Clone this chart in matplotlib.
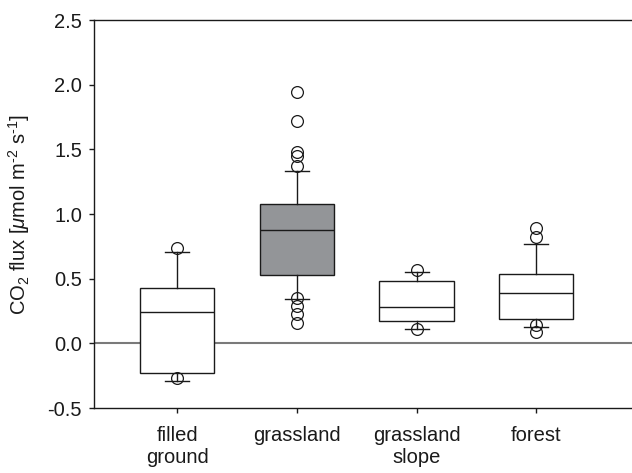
import matplotlib
matplotlib.use("Agg")
import matplotlib.pyplot as plt

plt.rcParams["font.family"] = ["Liberation Sans", "DejaVu Sans"]
plt.rcParams["mathtext.fontset"] = "custom"
plt.rcParams["mathtext.rm"] = "Liberation Sans"
plt.rcParams["mathtext.it"] = "Liberation Sans:italic"

# Box statistics per land-use class
sites = ["filled\nground", "grassland", "grassland\nslope", "forest"]
q1 = [-0.23, 0.53, 0.17, 0.19]
med = [0.24, 0.88, 0.28, 0.39]
q3 = [0.425, 1.08, 0.48, 0.54]
whislo = [-0.29, 0.34, 0.11, 0.13]
whishi = [0.71, 1.33, 0.55, 0.77]
fliers = [
    [0.735, -0.27],
    [1.94, 1.72, 1.48, 1.45, 1.37, 0.35, 0.29, 0.23, 0.155],
    [0.57, 0.11],
    [0.89, 0.82, 0.14, 0.085],
]
face = ["white", "#939598", "white", "white"]

stats = [
    dict(label=s, q1=a, med=m, q3=b, whislo=lo, whishi=hi, fliers=f)
    for s, a, m, b, lo, hi, f in zip(sites, q1, med, q3, whislo, whishi, fliers)
]

fig = plt.figure(figsize=(6.32, 4.73), dpi=100)
ax = fig.add_axes([0.1487, 0.1374, 0.8513, 0.8203])

ax.axhline(0, color="#7a7a7a", lw=1.5, zorder=1)

bp = ax.bxp(
    stats,
    positions=[1, 2, 3, 4],
    widths=0.62,
    patch_artist=True,
    showfliers=True,
    boxprops=dict(edgecolor="#1a1a1a", linewidth=1.0),
    medianprops=dict(color="#1a1a1a", linewidth=1.0),
    whiskerprops=dict(color="#1a1a1a", linewidth=1.0),
    capprops=dict(color="#1a1a1a", linewidth=1.0),
    capwidths=0.2,
    flierprops=dict(marker="o", markersize=8.5, markerfacecolor="none",
                    markeredgecolor="#1a1a1a", markeredgewidth=0.9),
)
for patch, c in zip(bp["boxes"], face):
    patch.set_facecolor(c)
    patch.set_zorder(2)

ax.set_xlim(0.305, 4.80)
ax.set_ylim(-0.5, 2.5)
ax.set_yticks([-0.5, 0.0, 0.5, 1.0, 1.5, 2.0, 2.5])
ax.set_yticklabels(["-0.5", "0.0", "0.5", "1.0", "1.5", "2.0", "2.5"])
ax.set_xticks([1, 2, 3, 4])
ax.set_xticklabels(sites, linespacing=1.25)

ax.spines["right"].set_visible(False)
for sp in ("left", "bottom", "top"):
    ax.spines[sp].set_linewidth(1.0)
    ax.spines[sp].set_color("#1a1a1a")

ax.tick_params(axis="both", direction="out", length=3.6, width=1.0,
               labelsize=14.5, colors="#1a1a1a")
ax.tick_params(axis="y", pad=5)
ax.tick_params(axis="x", pad=9)

ax.set_ylabel(r"CO$_2$ flux [$\mu$mol m$^{\text{-}2}$ s$^{\text{-}1}$]",
              fontsize=14.5, color="#1a1a1a", labelpad=11)

fig.savefig("out.png", dpi=100)
